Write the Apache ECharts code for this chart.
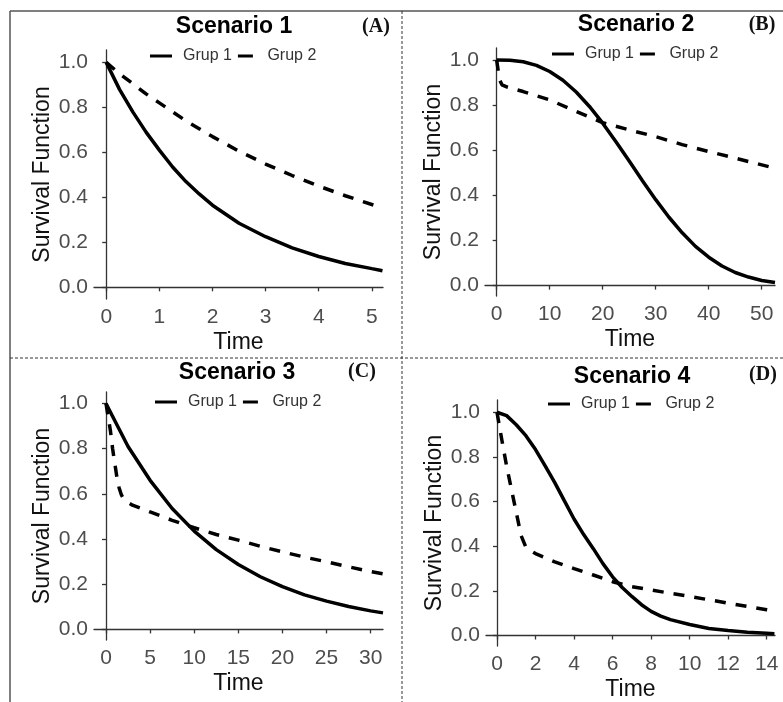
<!DOCTYPE html>
<html>
<head>
<meta charset="utf-8">
<script src="https://cdn.jsdelivr.net/npm/echarts@6/dist/echarts.min.js"></script>
<style>
  html, body { margin: 0; padding: 0; background: #fff; }
  #grafico { width: 783px; height: 702px; }
</style>
</head>
<body>
<div id="grafico"></div>
<script>
// textos
var titulos = ['Scenario 1', 'Scenario 2', 'Scenario 3', 'Scenario 4'];
var letras = ['(A)', '(B)', '(C)', '(D)'];
var grupos = ['Grup 1', 'Grup 2'];

// ticks
var yTicks = [0, 0.2, 0.4, 0.6, 0.8, 1.0];
var ticksA = [0, 1, 2, 3, 4, 5];
var ticksB = [0, 10, 20, 30, 40, 50];
var ticksC = [0, 5, 10, 15, 20, 25, 30];
var ticksD = [0, 2, 4, 6, 8, 10, 12, 14];

// Scenario 1
var tempoA = [0, 0.25, 0.5, 0.75, 1, 1.25, 1.5, 1.75, 2, 2.5, 3, 3.5, 4, 4.5, 5, 5.2];
var grup1A = [1.0, 0.88, 0.78, 0.69, 0.61, 0.535, 0.47, 0.415, 0.365, 0.285, 0.225, 0.175, 0.137, 0.106, 0.083, 0.074];
var grup2A = [1.0, 0.95, 0.905, 0.86, 0.82, 0.78, 0.74, 0.705, 0.67, 0.605, 0.548, 0.497, 0.45, 0.407, 0.368, 0.354];

// Scenario 2
var tempoB1 = [0, 2.5, 5, 7.5, 10, 12.5, 15, 17.5, 20, 22.5, 25, 27.5, 30, 32.5, 35, 37.5, 40, 42.5, 45, 47.5, 50, 52.5];
var grup1B = [1.0, 0.999, 0.992, 0.976, 0.949, 0.91, 0.858, 0.794, 0.72, 0.638, 0.552, 0.465, 0.381, 0.303, 0.234, 0.174, 0.126, 0.087, 0.058, 0.038, 0.023, 0.014];
var tempoB2 = [0, 0.3, 0.6, 1, 2, 5, 10, 15, 20, 25, 30, 35, 40, 45, 50, 52.5];
var grup2B = [1.0, 0.95, 0.91, 0.89, 0.88, 0.86, 0.823, 0.772, 0.722, 0.69, 0.66, 0.625, 0.594, 0.565, 0.535, 0.52];

// Scenario 3
var tempoC1 = [0, 2.5, 5, 7.5, 10, 12.5, 15, 17.5, 20, 22.5, 25, 27.5, 30, 31.4];
var grup1C = [1.0, 0.81, 0.66, 0.535, 0.435, 0.353, 0.287, 0.233, 0.189, 0.153, 0.125, 0.101, 0.082, 0.073];
var tempoC2 = [0, 0.25, 0.5, 0.75, 1, 1.25, 1.5, 1.75, 2, 2.5, 3, 4, 5, 7.5, 10, 12.5, 15, 17.5, 20, 22.5, 25, 27.5, 30, 31.4];
var grup2C = [1.0, 0.94, 0.88, 0.8, 0.734, 0.67, 0.625, 0.595, 0.578, 0.562, 0.55, 0.535, 0.52, 0.483, 0.45, 0.42, 0.395, 0.368, 0.343, 0.32, 0.299, 0.277, 0.256, 0.246];

// Scenario 4
var tempoD1 = [0, 0.5, 1, 1.5, 2, 2.5, 3, 3.5, 4, 4.5, 5, 5.5, 6, 6.5, 7, 7.5, 8, 8.5, 9, 10, 11, 12, 13, 14, 14.4];
var grup1D = [1.0, 0.985, 0.944, 0.895, 0.833, 0.76, 0.685, 0.603, 0.522, 0.452, 0.389, 0.322, 0.263, 0.215, 0.175, 0.138, 0.108, 0.087, 0.071, 0.049, 0.031, 0.022, 0.015, 0.01, 0.008];
var tempoD2 = [0, 0.25, 0.5, 0.75, 1, 1.25, 1.5, 1.75, 2, 3, 4, 5, 6, 7, 8, 9, 10, 11, 12, 13, 14, 14.4];
var grup2D = [1.0, 0.877, 0.759, 0.655, 0.552, 0.448, 0.396, 0.38, 0.367, 0.33, 0.3, 0.271, 0.241, 0.219, 0.204, 0.189, 0.175, 0.16, 0.145, 0.13, 0.115, 0.108];

var fonte = '"Liberation Sans", Arial, sans-serif';

function pares(t, s) {
    return t.map(function (v, i) { return [v, s[i]]; });
}

// posicoes dos paineis
var paineis = [
    { grid: { left: 94, top: 50, width: 289, height: 249 }, x: [-0.23, 5.21], y: [-0.052, 1.055], ticks: ticksA,
      s1: pares(tempoA, grup1A), s2: pares(tempoA, grup2A), tx: 234, ty: 27, lx: 376, ly: 27, legLeft: 145, legTop: 43 },
    { grid: { left: 485, top: 48, width: 290, height: 248 }, x: [-2.2, 52.5], y: [-0.046, 1.053], ticks: ticksB,
      s1: pares(tempoB1, grup1B), s2: pares(tempoB2, grup2B), tx: 636, ty: 25, lx: 762, ly: 25, legLeft: 547, legTop: 41 },
    { grid: { left: 94, top: 392, width: 289, height: 248 }, x: [-1.36, 31.4], y: [-0.047, 1.051], ticks: ticksC,
      s1: pares(tempoC1, grup1C), s2: pares(tempoC2, grup2C), tx: 237, ty: 373, lx: 362, ly: 372, legLeft: 150, legTop: 389 },
    { grid: { left: 486, top: 400, width: 289, height: 248 }, x: [-0.57, 14.43], y: [-0.047, 1.055], ticks: ticksD,
      s1: pares(tempoD1, grup1D), s2: pares(tempoD2, grup2D), tx: 632, ty: 377, lx: 763, ly: 375, legLeft: 543, legTop: 391 }
];

var grids = [], xAxes = [], yAxes = [], series = [], legends = [], graficos = [];

paineis.forEach(function (p, i) {
    grids.push(p.grid);
    xAxes.push({
        type: 'value', gridIndex: i, min: p.x[0], max: p.x[1],
        name: 'Time', nameLocation: 'middle', nameGap: 32,
        nameTextStyle: { fontFamily: fonte, fontSize: 23, color: '#111' },
        splitLine: { show: false },
        axisLine: { lineStyle: { color: '#333', width: 1.3 } },
        axisTick: { customValues: p.ticks, length: 4, lineStyle: { color: '#333', width: 1.3 } },
        axisLabel: { customValues: p.ticks, margin: 8, fontFamily: fonte, fontSize: 21, color: '#4d4d4d' }
    });
    yAxes.push({
        type: 'value', gridIndex: i, min: p.y[0], max: p.y[1],
        name: 'Survival Function', nameLocation: 'middle', nameGap: 40, nameRotate: 90,
        nameTextStyle: { fontFamily: fonte, fontSize: 23, color: '#111' },
        splitLine: { show: false },
        axisLine: { show: true, lineStyle: { color: '#333', width: 1.3 } },
        axisTick: { show: true, customValues: yTicks, length: 4, lineStyle: { color: '#333', width: 1.3 } },
        axisLabel: {
            customValues: yTicks, margin: 6, fontFamily: fonte, fontSize: 21, color: '#4d4d4d',
            formatter: function (v) { return v.toFixed(1); }
        }
    });
    series.push({
        name: grupos[0], type: 'line', xAxisIndex: i, yAxisIndex: i,
        symbol: 'none', data: p.s1, silent: true,
        lineStyle: { color: '#000', width: 3.5 }, itemStyle: { color: '#000' }
    });
    series.push({
        name: grupos[1], type: 'line', xAxisIndex: i, yAxisIndex: i,
        symbol: 'none', data: p.s2, silent: true,
        lineStyle: { color: '#000', width: 3.5, type: [11, 10] }, itemStyle: { color: '#000' }
    });
    legends.push({
        left: p.legLeft, top: p.legTop, orient: 'horizontal', itemGap: 6,
        itemWidth: 22, itemHeight: 3, selectedMode: false,
        textStyle: { fontFamily: fonte, fontSize: 16, color: '#333', padding: [0, 0, 0, 6] },
        data: [
            { name: grupos[0], icon: 'rect' },
            { name: grupos[1], icon: 'path://M0,0H15V3H0Z' }
        ]
    });
    graficos.push({
        type: 'text', x: p.tx, y: p.ty,
        style: { text: titulos[i], fontFamily: fonte, fontSize: 23, fontWeight: 'bold', fill: '#000', align: 'center', verticalAlign: 'middle' }
    });
    graficos.push({
        type: 'text', x: p.lx, y: p.ly,
        style: { text: letras[i], fontFamily: '"Liberation Serif", serif', fontSize: 20, fontWeight: 'bold', fill: '#111', align: 'center', verticalAlign: 'middle' }
    });
});

// moldura e divisorias
graficos.push({ type: 'line', shape: { x1: 10, y1: 11, x2: 10, y2: 702 }, style: { stroke: '#555', lineWidth: 1.5 } });
graficos.push({ type: 'line', shape: { x1: 10, y1: 11, x2: 783, y2: 11 }, style: { stroke: '#555', lineWidth: 1.5 } });
graficos.push({ type: 'line', shape: { x1: 402, y1: 11, x2: 402, y2: 702 }, style: { stroke: '#333', lineWidth: 1, lineDash: [3, 2] } });
graficos.push({ type: 'line', shape: { x1: 10, y1: 358, x2: 783, y2: 358 }, style: { stroke: '#333', lineWidth: 1, lineDash: [3, 2] } });

var myChart = echarts.init(document.getElementById('grafico'));

var option = {
    backgroundColor: '#fff',
    animation: false,
    grid: grids,
    xAxis: xAxes,
    yAxis: yAxes,
    legend: legends,
    series: series,
    graphic: graficos
};

myChart.setOption(option);
</script>
</body>
</html>
